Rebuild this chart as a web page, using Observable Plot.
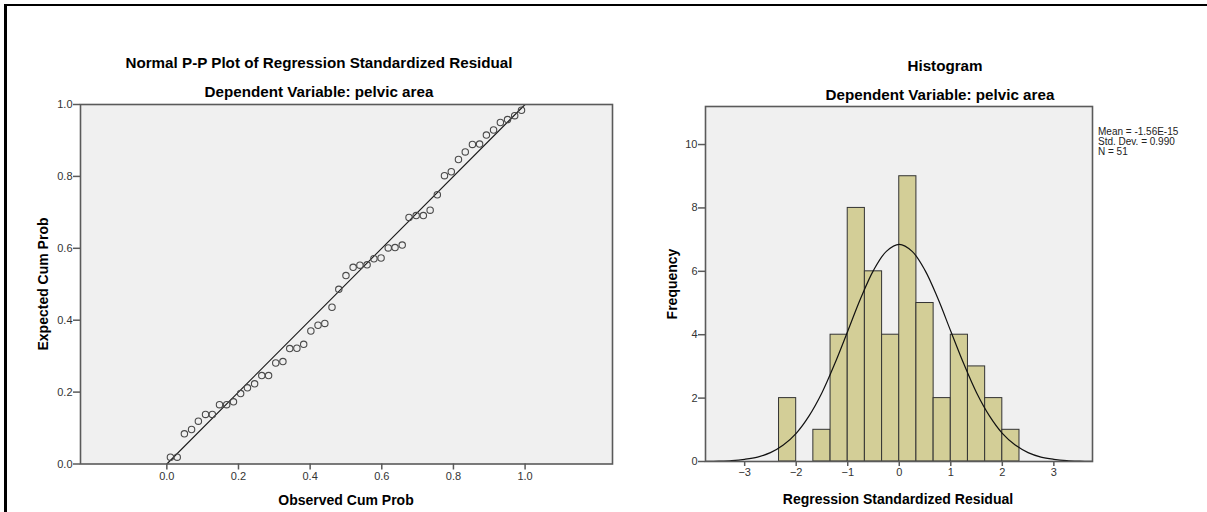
<!DOCTYPE html>
<html>
<head>
<meta charset="utf-8">
<script src="https://cdn.jsdelivr.net/npm/d3@7"></script>
<script src="https://cdn.jsdelivr.net/npm/@observablehq/plot@0.6"></script>
<style>
  html, body { margin: 0; padding: 0; background: #fff; width: 1207px; height: 512px; overflow: hidden; }
  #root { position: relative; width: 1207px; height: 512px; font-family: "Liberation Sans", Arial, sans-serif; }
  .border { position: absolute; left: 4px; top: 4px; width: 1400px; height: 700px; border-top: 2px solid #000; border-left: 3px solid #000; }
  .abs { position: absolute; }
  .t { position: absolute; transform: translate(-50%, -50%); white-space: nowrap; font-weight: bold; font-size: 15.2px; line-height: 1; color: #000; }
  .ax { position: absolute; transform: translate(-50%, -50%); white-space: nowrap; font-weight: bold; font-size: 14px; line-height: 1; color: #000; }
  .axv { position: absolute; transform: translate(-50%, -50%) rotate(-90deg); white-space: nowrap; font-weight: bold; font-size: 14px; line-height: 1; color: #000; }
  .stats { position: absolute; left: 1098px; top: 127px; font-size: 10px; line-height: 10px; color: #222; }
</style>
</head>
<body>
<div id="root">
  <div class="border"></div>
  <div id="pp" class="abs" style="left:0;top:0"></div>
  <div id="hist" class="abs" style="left:640px;top:0"></div>
  <div class="t" style="left:319px;top:63px">Normal P-P Plot of Regression Standardized Residual</div>
  <div class="t" style="left:319px;top:92px">Dependent Variable: pelvic area</div>
  <div class="ax" style="left:346px;top:500px">Observed Cum Prob</div>
  <div class="axv" style="left:43px;top:284px">Expected Cum Prob</div>
  <div class="t" style="left:945px;top:66px">Histogram</div>
  <div class="t" style="left:940px;top:95px">Dependent Variable: pelvic area</div>
  <div class="ax" style="left:898px;top:499px">Regression Standardized Residual</div>
  <div class="axv" style="left:672px;top:284px">Frequency</div>
  <div class="stats">Mean = -1.56E-15<br>Std. Dev. = 0.990<br>N = 51</div>
</div>
<script>
// ---- P-P plot data ----
const observedCumProb = [0.010, 0.029, 0.049, 0.069, 0.088, 0.108, 0.127, 0.147, 0.167, 0.186,
  0.206, 0.225, 0.245, 0.265, 0.284, 0.304, 0.324, 0.343, 0.363, 0.382,
  0.402, 0.422, 0.441, 0.461, 0.480, 0.500, 0.520, 0.539, 0.559, 0.578,
  0.598, 0.618, 0.637, 0.657, 0.676, 0.696, 0.716, 0.735, 0.755, 0.775,
  0.794, 0.814, 0.833, 0.853, 0.873, 0.892, 0.912, 0.931, 0.951, 0.971, 0.990];
const expectedCumProb = [0.019, 0.019, 0.084, 0.096, 0.119, 0.138, 0.138, 0.165, 0.165, 0.173,
  0.196, 0.212, 0.223, 0.246, 0.246, 0.281, 0.285, 0.321, 0.322, 0.333,
  0.370, 0.386, 0.391, 0.436, 0.486, 0.524, 0.547, 0.553, 0.554, 0.571,
  0.573, 0.601, 0.602, 0.609, 0.686, 0.691, 0.691, 0.706, 0.749, 0.802,
  0.813, 0.847, 0.868, 0.889, 0.890, 0.915, 0.929, 0.950, 0.958, 0.969, 0.984];
const refLineX = [0, 1];
const refLineY = [0, 1];
const ppTicks = [0, 0.2, 0.4, 0.6, 0.8, 1.0];

// ---- Histogram data ----
const binEdges = [-2.333, -2.000, -1.667, -1.333, -1.000, -0.667, -0.333, 0.000, 0.333, 0.667, 1.000, 1.333, 1.667, 2.000, 2.333];
const binCounts = [2, 0, 1, 4, 8, 6, 4, 9, 5, 2, 4, 3, 2, 1];
const curveX = [-3.75, -3.5, -3.25, -3, -2.75, -2.5, -2.25, -2, -1.75, -1.5, -1.25, -1, -0.75, -0.5, -0.25, 0,
  0.25, 0.5, 0.75, 1, 1.25, 1.5, 1.75, 2, 2.25, 2.5, 2.75, 3, 3.25, 3.5, 3.75];
const curveY = [0.005, 0.013, 0.03, 0.07, 0.14, 0.28, 0.52, 0.89, 1.44, 2.17, 3.09, 4.11, 5.14, 6.03, 6.63, 6.85,
  6.63, 6.03, 5.14, 4.11, 3.09, 2.17, 1.44, 0.89, 0.52, 0.28, 0.14, 0.07, 0.03, 0.013, 0.005];
const histXTicks = [-3, -2, -1, 0, 1, 2, 3];
const histYTicks = [0, 2, 4, 6, 8, 10];

const ppData = observedCumProb.map((x, i) => ({x, y: expectedCumProb[i]}));
const refData = refLineX.map((x, i) => ({x, y: refLineY[i]}));
const bins = binCounts.map((c, i) => ({x1: binEdges[i], x2: binEdges[i + 1], y: c})).filter(d => d.y > 0);
const curve = curveX.map((x, i) => ({x, y: curveY[i]}));

const baseStyle = {fontFamily: "'Liberation Sans', Arial, sans-serif", fontSize: "11px", color: "#333", background: "transparent", overflow: "visible"};

const pp = Plot.plot({
  width: 640, height: 512,
  marginLeft: 80, marginRight: 28, marginTop: 104, marginBottom: 48.5,
  x: {domain: [-0.241, 1.244]},
  y: {domain: [0, 1]},
  style: baseStyle,
  marks: [
    Plot.frame({fill: "#f0f0f0", stroke: null}),
    Plot.line(refData, {x: "x", y: "y", stroke: "#1a1a1a", strokeWidth: 1.1}),
    Plot.dot(ppData, {x: "x", y: "y", r: 3.2, stroke: "#4a4a4a", strokeWidth: 1.1, fill: "none"}),
    Plot.frame({stroke: "#5a5a5a", strokeWidth: 1.6}),
    Plot.axisX({ticks: ppTicks, tickFormat: d3.format(".1f"), tickSize: 6, tickPadding: 2, label: null, stroke: "#5a5a5a", strokeWidth: 1.5}),
    Plot.axisY({ticks: ppTicks, tickFormat: d3.format(".1f"), tickSize: 7, tickPadding: 1, label: null, stroke: "#5a5a5a", strokeWidth: 1.5})
  ]
});
document.getElementById("pp").appendChild(pp);

const hist = Plot.plot({
  width: 567, height: 512,
  marginLeft: 65, marginRight: 115, marginTop: 106, marginBottom: 51,
  x: {domain: [-3.76, 3.75]},
  y: {domain: [0, 11.2]},
  style: baseStyle,
  marks: [
    Plot.frame({fill: "#f0f0f0", stroke: null}),
    Plot.rectY(bins, {x1: "x1", x2: "x2", y: "y", fill: "#d3ce97", stroke: "#333", strokeWidth: 1}),
    Plot.line(curve, {x: "x", y: "y", stroke: "#111", strokeWidth: 1.2, curve: "catmull-rom"}),
    Plot.frame({stroke: "#5a5a5a", strokeWidth: 1.6}),
    Plot.axisX({ticks: histXTicks, tickFormat: d3.format("d"), tickSize: 5, tickPadding: 2, label: null, stroke: "#5a5a5a", strokeWidth: 1.5}),
    Plot.axisY({ticks: histYTicks, tickFormat: d3.format("d"), tickSize: 7, tickPadding: 1, label: null, stroke: "#5a5a5a", strokeWidth: 1.5})
  ]
});
document.getElementById("hist").appendChild(hist);
</script>
</body>
</html>
